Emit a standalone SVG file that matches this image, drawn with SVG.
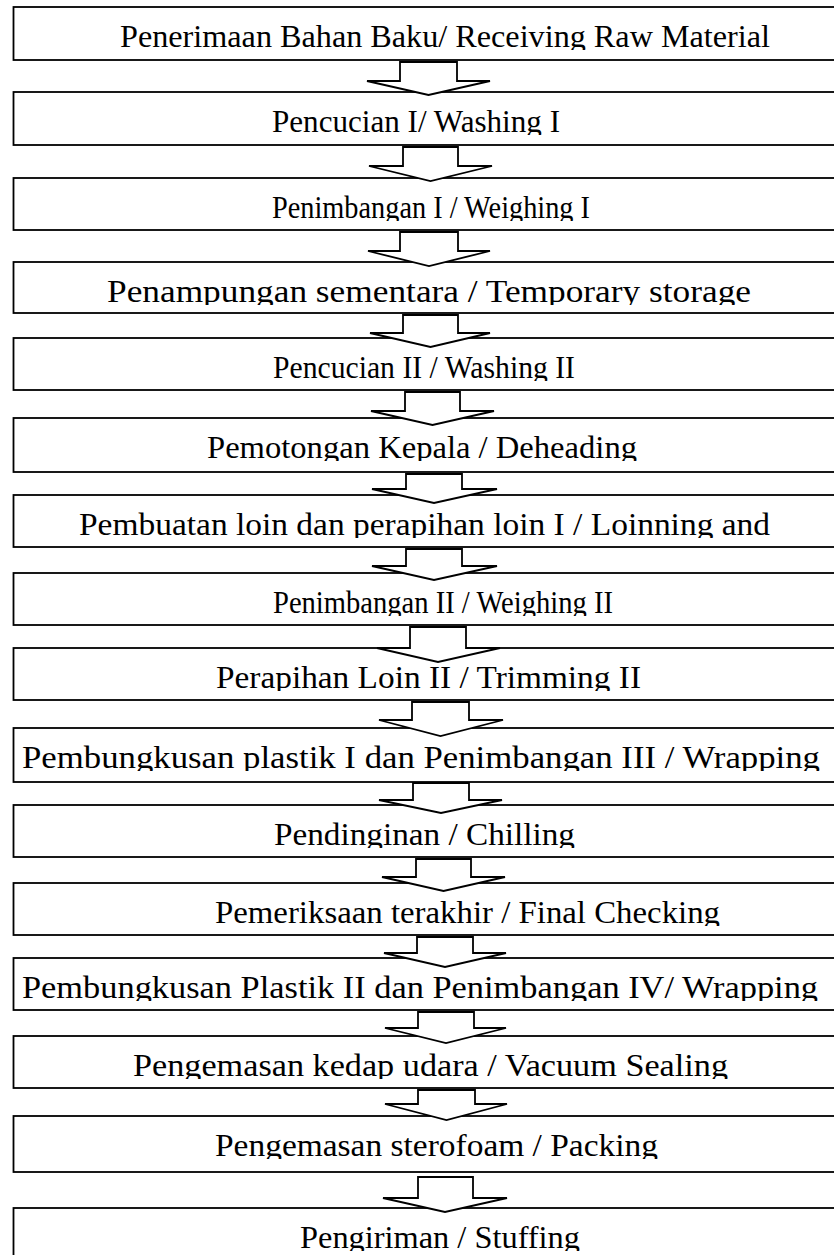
<svg xmlns="http://www.w3.org/2000/svg" width="834" height="1255" viewBox="0 0 834 1255">
<style>
.box{fill:#fff;stroke:#000;stroke-width:1.8}
.lbl{font-family:"Liberation Serif","DejaVu Serif",serif;font-size:31px;fill:#000}
.arr{fill:#fff;stroke:#000;stroke-width:1.8;stroke-linejoin:miter}
</style>
<defs>
<clipPath id="c1"><rect x="15" y="8" width="830" height="42"/></clipPath>
<clipPath id="c2"><rect x="15" y="93" width="830" height="42"/></clipPath>
<clipPath id="c3"><rect x="15" y="179" width="830" height="42"/></clipPath>
<clipPath id="c4"><rect x="15" y="263" width="830" height="42"/></clipPath>
<clipPath id="c5"><rect x="15" y="339" width="830" height="42"/></clipPath>
<clipPath id="c6"><rect x="15" y="419" width="830" height="42"/></clipPath>
<clipPath id="c7"><rect x="15" y="496" width="830" height="42"/></clipPath>
<clipPath id="c8"><rect x="15" y="574" width="830" height="42"/></clipPath>
<clipPath id="c9"><rect x="15" y="649" width="830" height="42"/></clipPath>
<clipPath id="c10"><rect x="15" y="729" width="830" height="42"/></clipPath>
<clipPath id="c11"><rect x="15" y="806" width="830" height="42"/></clipPath>
<clipPath id="c12"><rect x="15" y="884" width="830" height="42"/></clipPath>
<clipPath id="c13"><rect x="15" y="959" width="830" height="42"/></clipPath>
<clipPath id="c14"><rect x="15" y="1037" width="830" height="42"/></clipPath>
<clipPath id="c15"><rect x="15" y="1117" width="830" height="42"/></clipPath>
<clipPath id="c16"><rect x="15" y="1209" width="830" height="42"/></clipPath>
</defs>
<rect width="834" height="1255" fill="#fff"/>
<g id="node1"><rect class="box" x="13.5" y="7" width="830" height="53"/><text class="lbl" x="120" y="47" textLength="650" lengthAdjust="spacingAndGlyphs" clip-path="url(#c1)">Penerimaan Bahan Baku/ Receiving Raw Material</text></g>
<g id="node2"><rect class="box" x="13.5" y="92" width="830" height="53"/><text class="lbl" x="272" y="132" textLength="288" lengthAdjust="spacingAndGlyphs" clip-path="url(#c2)">Pencucian I/ Washing I</text></g>
<g id="node3"><rect class="box" x="13.5" y="178" width="830" height="52"/><text class="lbl" x="272" y="218" textLength="318" lengthAdjust="spacingAndGlyphs" clip-path="url(#c3)">Penimbangan I / Weighing I</text></g>
<g id="node4"><rect class="box" x="13.5" y="262" width="830" height="51"/><text class="lbl" x="107" y="302" textLength="644" lengthAdjust="spacingAndGlyphs" clip-path="url(#c4)">Penampungan sementara / Temporary storage</text></g>
<g id="node5"><rect class="box" x="13.5" y="338" width="830" height="52"/><text class="lbl" x="273" y="378" textLength="302" lengthAdjust="spacingAndGlyphs" clip-path="url(#c5)">Pencucian II / Washing II</text></g>
<g id="node6"><rect class="box" x="13.5" y="418" width="830" height="54"/><text class="lbl" x="207" y="458" textLength="430" lengthAdjust="spacingAndGlyphs" clip-path="url(#c6)">Pemotongan Kepala / Deheading</text></g>
<g id="node7"><rect class="box" x="13.5" y="495" width="830" height="52"/><text class="lbl" x="79" y="535" textLength="691" lengthAdjust="spacingAndGlyphs" clip-path="url(#c7)">Pembuatan loin dan perapihan loin I / Loinning and</text></g>
<g id="node8"><rect class="box" x="13.5" y="573" width="830" height="52"/><text class="lbl" x="273" y="613" textLength="340" lengthAdjust="spacingAndGlyphs" clip-path="url(#c8)">Penimbangan II / Weighing II</text></g>
<g id="node9"><rect class="box" x="13.5" y="648" width="830" height="52"/><text class="lbl" x="216" y="688" textLength="425" lengthAdjust="spacingAndGlyphs" clip-path="url(#c9)">Perapihan Loin II / Trimming II</text></g>
<g id="node10"><rect class="box" x="13.5" y="728" width="830" height="54"/><text class="lbl" x="22" y="768" textLength="798" lengthAdjust="spacingAndGlyphs" clip-path="url(#c10)">Pembungkusan plastik I dan Penimbangan III / Wrapping</text></g>
<g id="node11"><rect class="box" x="13.5" y="805" width="830" height="52"/><text class="lbl" x="274" y="845" textLength="301" lengthAdjust="spacingAndGlyphs" clip-path="url(#c11)">Pendinginan / Chilling</text></g>
<g id="node12"><rect class="box" x="13.5" y="883" width="830" height="52"/><text class="lbl" x="215" y="923" textLength="505" lengthAdjust="spacingAndGlyphs" clip-path="url(#c12)">Pemeriksaan terakhir / Final Checking</text></g>
<g id="node13"><rect class="box" x="13.5" y="958" width="830" height="52"/><text class="lbl" x="22" y="998" textLength="796" lengthAdjust="spacingAndGlyphs" clip-path="url(#c13)">Pembungkusan Plastik II dan Penimbangan IV/ Wrapping</text></g>
<g id="node14"><rect class="box" x="13.5" y="1036" width="830" height="52"/><text class="lbl" x="133" y="1076" textLength="595" lengthAdjust="spacingAndGlyphs" clip-path="url(#c14)">Pengemasan kedap udara / Vacuum Sealing</text></g>
<g id="node15"><rect class="box" x="13.5" y="1116" width="830" height="56"/><text class="lbl" x="215" y="1156" textLength="443" lengthAdjust="spacingAndGlyphs" clip-path="url(#c15)">Pengemasan sterofoam / Packing</text></g>
<g id="node16"><rect class="box" x="13.5" y="1208" width="830" height="60"/><text class="lbl" x="300" y="1248" textLength="280" lengthAdjust="spacingAndGlyphs" clip-path="url(#c16)">Pengiriman / Stuffing</text></g>
<g id="connectors">
<polygon class="arr" points="400,62 457,62 457,81 490,81 428.5,95 367,81 400,81"/>
<polygon class="arr" points="403,147 458,147 458,166 492,166 430.5,181 369,166 403,166"/>
<polygon class="arr" points="400,232 458,232 458,251 490,251 429,266 368,251 400,251"/>
<polygon class="arr" points="403,315 458,315 458,333 490,333 430.5,347 370,333 403,333"/>
<polygon class="arr" points="405,392 460,392 460,411 494,411 432.5,425 371,411 405,411"/>
<polygon class="arr" points="406,474 462,474 462,489 497,489 434,503 372,489 406,489"/>
<polygon class="arr" points="406,549 462,549 462,566 497,566 434,580 372,566 406,566"/>
<polygon class="arr" points="410,627 466,627 466,648 500,648 438,662 377,648 410,648"/>
<polygon class="arr" points="412,702 469,702 469,720 503,720 440.5,736 379,720 412,720"/>
<polygon class="arr" points="413,783 469,783 469,800 502,800 441,813 379,800 413,800"/>
<polygon class="arr" points="416,859 471,859 471,877 505,877 443.5,891 382,877 416,877"/>
<polygon class="arr" points="417,937 473,937 473,953 506,953 445,967 384,953 417,953"/>
<polygon class="arr" points="418,1012 474,1012 474,1028 506,1028 446,1043 385,1028 418,1028"/>
<polygon class="arr" points="418,1090 475,1090 475,1104 507,1104 446.5,1120 385,1104 418,1104"/>
<polygon class="arr" points="418,1177 473,1177 473,1198 507,1198 445,1212 383,1198 418,1198"/>
</g>
</svg>
